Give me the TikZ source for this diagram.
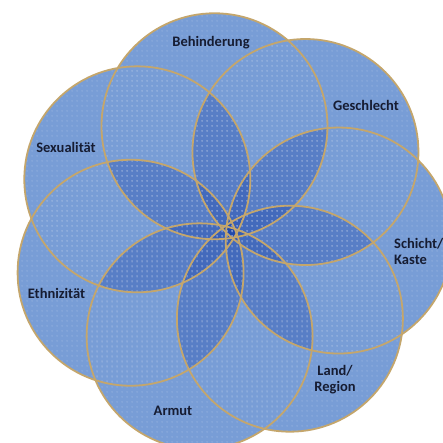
\documentclass[tikz,border=0pt]{standalone}
\usepackage{fontspec}
\setmainfont{Carlito}
\usetikzlibrary{calc,patterns.meta}
\definecolor{basefill}{RGB}{120,157,214}
\definecolor{petalov}{RGB}{30,70,170}
\definecolor{edgetan}{RGB}{196,166,108}
\definecolor{txtcol}{RGB}{22,28,50}
\tikzdeclarepattern{name=softdots, type=uncolored,
  bounding box={(0pt,0pt) and (5pt,5pt)}, tile size={(5pt,5pt)},
  code={\fill (2.5pt,2.5pt) circle (0.9pt);}}
\begin{document}
\begin{tikzpicture}[x=1pt,y=1pt,
  lbl/.style={font=\bfseries\fontsize{14.5}{16}\selectfont, text=txtcol, inner sep=0pt, align=center},
  ring/.style={draw=edgetan, line width=1.8pt},
  petal/.style={fill=petalov, fill opacity=0.35},
  dotty/.style={pattern={softdots}, pattern color=white, fill opacity=0.18}]
\useasboundingbox (0,0) rectangle (443,443);
\coordinate (C) at (231,210);
\def\R{113}
\foreach \n/\a/\d in {b/98.8/108, g/47.4/110, s/-4.0/108, l/-55.5/104, a/-106.9/108, e/-158.4/108, x/150.2/108}
  {\coordinate (c\n) at ($(C)+(\a:\d)$);}
\foreach \n in {b,g,s,l,a,e,x}
  {\fill[basefill] (c\n) circle (\R);}
\foreach \p/\q in {x/g,b/s,g/l,s/a,l/e,a/x,e/b}
  {\begin{scope}
     \clip (c\p) circle (\R);
     \fill[petal] (c\q) circle (\R);
   \end{scope}}
\foreach \n in {b,g,s,l,a,e,x}
  {\fill[dotty] (c\n) circle (\R);}
\foreach \n in {b,g,s,l,a,e,x}
  {\draw[ring] (c\n) circle (\R);}
\node[lbl] (tb) at (211,400) {Behinderung};
\node[lbl] (tg) at (366,338) {Geschlecht};
\node[lbl, align=left, anchor=west] (ts) at (394,192) {Schicht/\\Kaste};
\node[lbl] (tl) at (335,63) {Land/\\Region};
\node[lbl] (ta) at (173,32) {Armut};
\node[lbl] (te) at (56.5,150) {Ethnizität};
\node[lbl] (tx) at (66,296) {Sexualität};
\end{tikzpicture}
\end{document}
